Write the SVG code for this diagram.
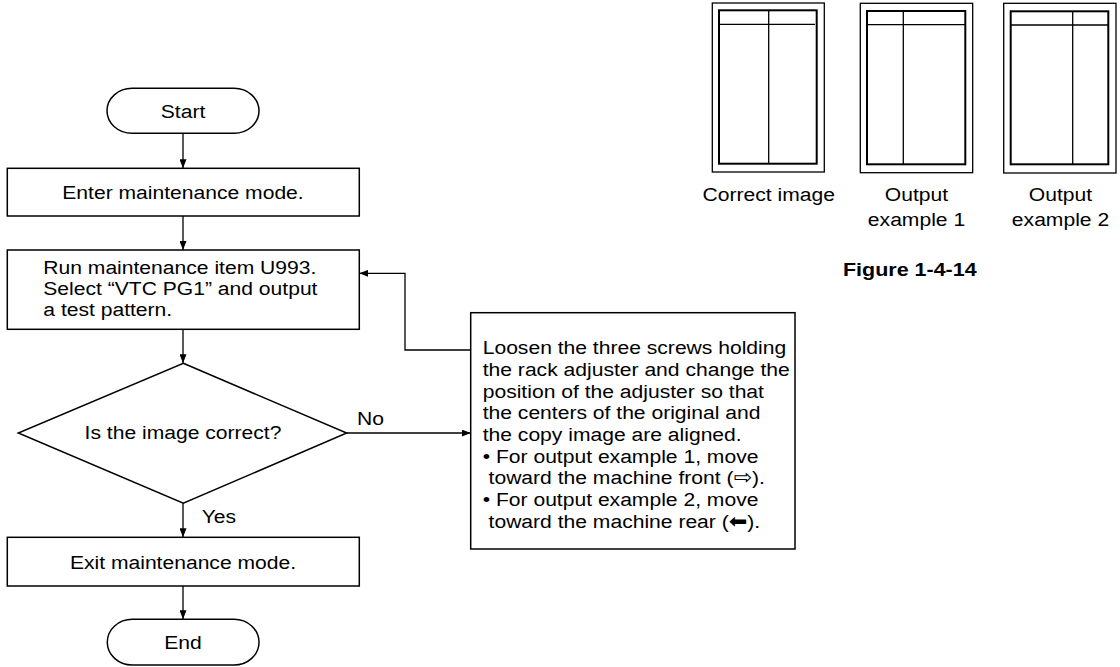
<svg xmlns="http://www.w3.org/2000/svg" width="1120" height="667" viewBox="0 0 1120 667">
<defs>
<style>
.t{font-family:"Liberation Sans","DejaVu Sans",Arial,sans-serif;font-size:19px;fill:#000}
.c{text-anchor:middle}
.b{font-weight:bold}
.sym{font-family:"DejaVu Sans",sans-serif;font-size:20px}
.box{fill:#fff;stroke:#000;stroke-width:1.5}
.ln{fill:none;stroke:#000;stroke-width:1.3}
.fo{fill:#fff;stroke:#000;stroke-width:1.3}
.fi{fill:none;stroke:#000;stroke-width:2}
</style>
<marker id="ah" markerUnits="userSpaceOnUse" markerWidth="9" markerHeight="7" refX="9" refY="3.5" orient="auto">
<path d="M0,0 L9,3.5 L0,7 z" fill="#000"/>
</marker>
</defs>
<rect width="1120" height="667" fill="#fff"/>

<g id="connectors" class="ln">
<line x1="183" y1="133.3" x2="183" y2="168.3" marker-end="url(#ah)"/>
<line x1="183" y1="216" x2="183" y2="250" marker-end="url(#ah)"/>
<line x1="183" y1="329.3" x2="183" y2="363.3" marker-end="url(#ah)"/>
<line x1="183" y1="503.3" x2="183" y2="537.3" marker-end="url(#ah)"/>
<line x1="183" y1="586" x2="183" y2="619.3" marker-end="url(#ah)"/>
<line x1="346.7" y1="433" x2="470.7" y2="433" marker-end="url(#ah)"/>
<polyline points="470.7,350 405,350 405,273.3 359.3,273.3" marker-end="url(#ah)"/>
</g>
<g id="connector-labels">
<text class="t" transform="translate(357,425) scale(1.11,1)">No</text>
<text class="t" transform="translate(201.7,523.3) scale(1.11,1)">Yes</text>
</g>

<g id="start">
<rect class="box" x="107" y="88.3" width="152" height="45" rx="25" ry="22.5"/>
<text class="t c" transform="translate(183,118) scale(1.11,1)">Start</text>
</g>
<g id="enter">
<rect class="box" x="7.3" y="168.3" width="352" height="47.7"/>
<text class="t c" transform="translate(183,198.5) scale(1.11,1)">Enter maintenance mode.</text>
</g>
<g id="run">
<rect class="box" x="7.3" y="250" width="352" height="79.3"/>
<text class="t" transform="translate(43.3,274) scale(1.11,1)"><tspan x="0" y="0">Run maintenance item U993.</tspan><tspan x="0" y="21.2">Select “VTC PG1” and output</tspan><tspan x="0" y="42.4">a test pattern.</tspan></text>
</g>
<g id="decision">
<polygon class="box" points="183.3,363.3 346.7,433 183.3,503.3 18.3,433"/>
<text class="t c" transform="translate(183,439) scale(1.11,1)">Is the image correct?</text>
</g>
<g id="exit">
<rect class="box" x="7.3" y="537.3" width="352" height="48.7"/>
<text class="t c" transform="translate(183,568.5) scale(1.11,1)">Exit maintenance mode.</text>
</g>
<g id="end">
<rect class="box" x="107.3" y="619.3" width="151.7" height="45.7" rx="25" ry="22.8"/>
<text class="t c" transform="translate(183,649) scale(1.11,1)">End</text>
</g>
<g id="adjust">
<rect class="box" x="470.7" y="312.7" width="324.3" height="236.3"/>
<text class="t" transform="translate(482.7,354.3) scale(1.11,1)"><tspan x="0" y="0">Loosen the three screws holding</tspan><tspan x="0" y="21.7">the rack adjuster and change the</tspan><tspan x="0" y="43.4">position of the adjuster so that</tspan><tspan x="0" y="65.1">the centers of the original and</tspan><tspan x="0" y="86.8">the copy image are aligned.</tspan><tspan x="0" y="108.5">• For output example 1, move</tspan><tspan x="0" y="130.2"> toward the machine front (<tspan class="sym">⇨</tspan>).</tspan><tspan x="0" y="151.9">• For output example 2, move</tspan><tspan x="0" y="173.6"> toward the machine rear (<tspan class="sym">⬅</tspan>).</tspan></text>
</g>

<g id="correct-image">
<rect class="fo" x="712.3" y="3" width="112" height="169"/>
<rect class="fi" x="719" y="10.3" width="97.7" height="153.4"/>
<line class="ln" x1="719" y1="24.3" x2="815" y2="24.3"/>
<line class="ln" x1="768.7" y1="10.3" x2="768.7" y2="163.7"/>
<text class="t c" transform="translate(768.7,201) scale(1.11,1)">Correct image</text>
</g>
<g id="output-example-1">
<rect class="fo" x="860.3" y="3.3" width="112.4" height="169.4"/>
<rect class="fi" x="867" y="11" width="98.3" height="153.3"/>
<line class="ln" x1="867" y1="24.7" x2="965.3" y2="24.7"/>
<line class="ln" x1="903.3" y1="11" x2="903.3" y2="164.3"/>
<text class="t c" transform="translate(916.5,201) scale(1.11,1)"><tspan x="0" y="0">Output</tspan><tspan x="0" y="25">example 1</tspan></text>
</g>
<g id="output-example-2">
<rect class="fo" x="1003.7" y="3.3" width="112.3" height="169.7"/>
<rect class="fi" x="1010.7" y="11.3" width="97.6" height="153"/>
<line class="ln" x1="1010.7" y1="25" x2="1108.3" y2="25"/>
<line class="ln" x1="1072.7" y1="11.3" x2="1072.7" y2="164.3"/>
<text class="t c" transform="translate(1060.5,201) scale(1.11,1)"><tspan x="0" y="0">Output</tspan><tspan x="0" y="25">example 2</tspan></text>
</g>
<g id="caption">
<text class="t b" transform="translate(843,276) scale(1.13,1)">Figure 1-4-14</text>
</g>
</svg>
